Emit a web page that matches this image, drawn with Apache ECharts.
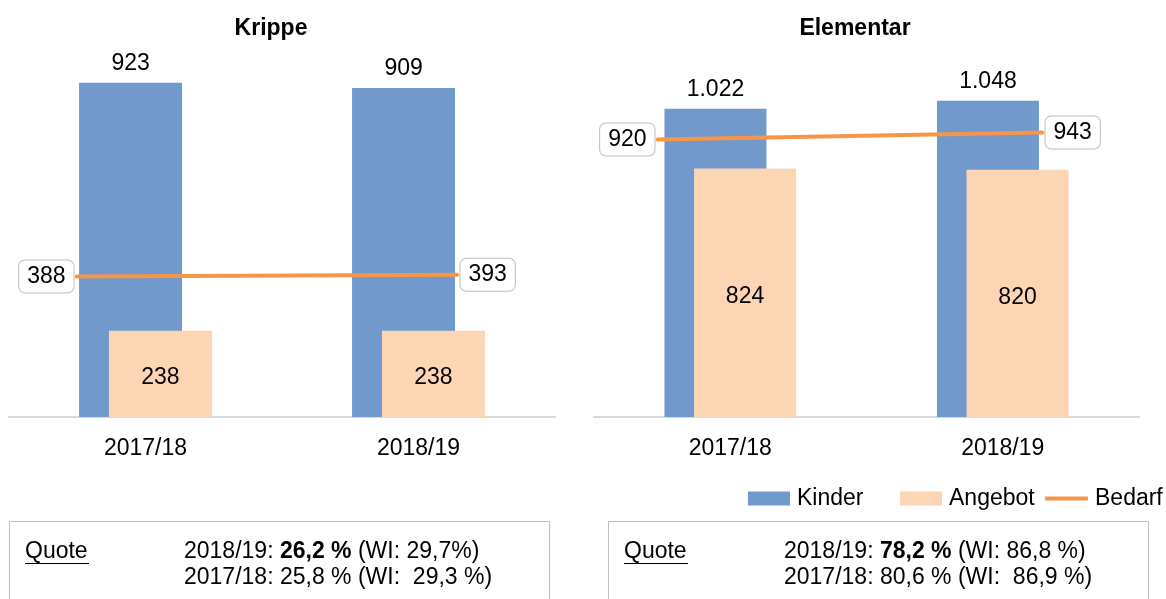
<!DOCTYPE html>
<html>
<head>
<meta charset="utf-8">
<script src="https://cdn.jsdelivr.net/npm/echarts@6/dist/echarts.min.js"></script>
<style>
html,body{margin:0;padding:0;background:#fff;}
#chart{width:1166px;height:599px;}
</style>
</head>
<body>
<div id="chart"></div>
<script>
const categories = ['2017/18', '2018/19'];
const krippeKinder = [923, 909];
const krippeAngebot = [238, 238];
const krippeBedarf = [388, 393];
const elementarKinder = [1022, 1048];
const elementarAngebot = [824, 820];
const elementarBedarf = [920, 943];
const panelTitles = ['Krippe', 'Elementar'];
const legendNames = ['Kinder', 'Angebot', 'Bedarf'];
const quoteLeft = [['2018/19: ', '26,2 %', ' (WI: 29,7%)'], ['2017/18: 25,8 % (WI:  29,3 %)']];
const quoteRight = [['2018/19: ', '78,2 %', ' (WI: 86,8 %)'], ['2017/18: 80,6 % (WI:  86,9 %)']];

const FONT = '"Liberation Sans", Arial, sans-serif';
const FS = 23;
const C_KINDER = '#7299cb';
const C_ANGEBOT = '#fcd5b5';
const C_BEDARF = '#f79646';

function de(n) { return String(n).replace(/\B(?=(\d{3})+(?!\d))/g, '.'); }

const chart = echarts.init(document.getElementById('chart'), null, {renderer: 'canvas'});

function catAxis(gi) {
  return {
    type: 'category', gridIndex: gi, data: categories,
    axisLine: {lineStyle: {color: '#d9d9d9', width: 2}},
    axisTick: {show: false},
    axisLabel: {fontSize: FS, color: '#000', fontFamily: FONT, margin: 20}
  };
}
function hiddenCat(gi) {
  return {type: 'category', gridIndex: gi, data: categories, boundaryGap: false, show: false};
}
function valAxis(gi, max) {
  return {type: 'value', gridIndex: gi, min: 0, max: max, show: false, splitLine: {show: false}};
}
const boxLabel = {
  show: true, fontSize: FS, color: '#000', fontFamily: FONT, lineHeight: 23,
  backgroundColor: '#fff', borderColor: '#bfbfbf', borderWidth: 1, borderRadius: 6,
  padding: [5, 8, 4, 8], distance: 1, formatter: p => de(p.value)
};
function lineData(arr) {
  return arr.map((v, i) => ({value: v, label: Object.assign({}, boxLabel, {position: i === 0 ? 'left' : 'right'})}));
}
function lineSeries(data, idx) {
  return {name: legendNames[2], type: 'line', xAxisIndex: idx, yAxisIndex: idx, data: lineData(data),
    symbol: 'circle', symbolSize: 3, showSymbol: true,
    lineStyle: {color: C_BEDARF, width: 4}, itemStyle: {color: C_BEDARF},
    label: boxLabel, emphasis: {disabled: true}, z: 5};
}
function barSeries(name, data, xi, color, labelPos, width, offset) {
  return {
    name: name, type: 'bar', xAxisIndex: xi, yAxisIndex: xi, data: data,
    barWidth: width, barGap: '-71%', itemStyle: {color: color},
    label: {show: true, position: labelPos, distance: 8, offset: offset, fontSize: FS, color: '#000', fontFamily: FONT,
            formatter: p => de(p.value)},
    emphasis: {disabled: true}
  };
}
function quoteGraphics(x0, valX, lines) {
  return [
    {type: 'rect', shape: {x: x0 + 0.5, y: 521.5, width: 540, height: 120},
     style: {fill: 'none', stroke: '#bfbfbf', lineWidth: 1}},
    {type: 'text', x: x0 + 16, y: 552, style: {text: 'Quote', font: FS + 'px ' + FONT, fill: '#000', textVerticalAlign: 'middle'}},
    {type: 'line', shape: {x1: x0 + 16, y1: 563.5, x2: x0 + 80, y2: 563.5}, style: {stroke: '#000', lineWidth: 1}},
    {type: 'text', x: valX, y: 552, style: {
      text: '{n|' + lines[0][0] + '}{b|' + lines[0][1] + '}{n|' + lines[0][2] + '}',
      textVerticalAlign: 'middle',
      rich: {n: {fontSize: FS, fontFamily: FONT, fill: '#000', color: '#000'},
             b: {fontSize: FS, fontFamily: FONT, fontWeight: 'bold', fill: '#000', color: '#000'}}
    }},
    {type: 'text', x: valX, y: 578, style: {text: lines[1][0], font: FS + 'px ' + FONT, fill: '#000', textVerticalAlign: 'middle'}}
  ];
}
function legendAt(name, left, w, h, icon) {
  return {data: [name], left: left, top: 487, padding: 0, itemWidth: w, itemHeight: h, itemGap: 0, icon: icon,
          selectedMode: false, textStyle: {fontSize: FS, color: '#000', fontFamily: FONT, padding: [0, 0, 0, 2]}};
}

const option = {
  animation: false,
  textStyle: {fontFamily: FONT},
  grid: [
    {left: 9, top: 55, width: 546, height: 362},
    {left: 594, top: 55, width: 545, height: 362},
    {left: 76, top: 55, width: 382, height: 362},
    {left: 657, top: 55, width: 386, height: 362}
  ],
  xAxis: [catAxis(0), catAxis(1), hiddenCat(2), hiddenCat(3)],
  yAxis: [valAxis(0, 1000), valAxis(1, 1200), valAxis(2, 1000), valAxis(3, 1200)],
  legend: [
    legendAt(legendNames[0], 748, 42, 14, 'rect'),
    legendAt(legendNames[1], 900, 42, 14, 'rect'),
    legendAt(legendNames[2], 1045, 43, 4, 'roundRect')
  ],
  series: [
    barSeries(legendNames[0], krippeKinder, 0, C_KINDER, 'top', 103, [0, 0]),
    barSeries(legendNames[1], krippeAngebot, 0, C_ANGEBOT, 'inside', 103, [0, 4]),
    barSeries(legendNames[0], elementarKinder, 1, C_KINDER, 'top', 102, [0, 0]),
    barSeries(legendNames[1], elementarAngebot, 1, C_ANGEBOT, 'inside', 102, [0, 4]),
    lineSeries(krippeBedarf, 2),
    lineSeries(elementarBedarf, 3)
  ],
  graphic: [
    {type: 'text', x: 271, y: 29, style: {text: panelTitles[0], font: 'bold ' + FS + 'px ' + FONT, fill: '#000', textAlign: 'center', textVerticalAlign: 'middle'}},
    {type: 'text', x: 855, y: 29, style: {text: panelTitles[1], font: 'bold ' + FS + 'px ' + FONT, fill: '#000', textAlign: 'center', textVerticalAlign: 'middle'}}
  ].concat(quoteGraphics(9, 184, quoteLeft), quoteGraphics(608, 784, quoteRight))
};
chart.setOption(option);
</script>
</body>
</html>
